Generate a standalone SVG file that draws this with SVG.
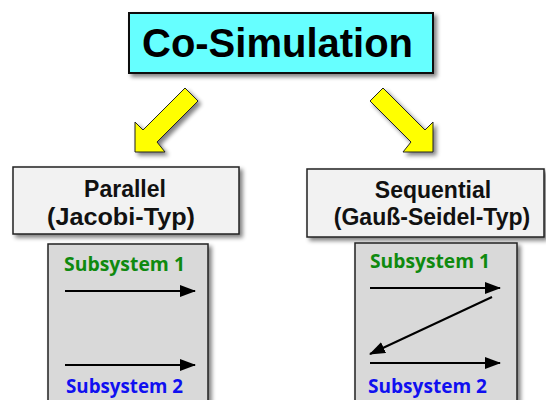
<svg xmlns="http://www.w3.org/2000/svg" width="546" height="400" viewBox="0 0 546 400">
<defs>
<filter id="sh" x="-10%" y="-10%" width="130%" height="140%">
<feGaussianBlur in="SourceAlpha" stdDeviation="2"/>
<feOffset dx="3" dy="3" result="b"/>
<feComponentTransfer><feFuncA type="linear" slope="0.5"/></feComponentTransfer>
<feMerge><feMergeNode/><feMergeNode in="SourceGraphic"/></feMerge>
</filter>
<marker id="ah" viewBox="0 0 16 12" refX="15" refY="6" markerWidth="16" markerHeight="12" markerUnits="userSpaceOnUse" orient="auto">
<path d="M0,0 L16,6 L0,12 Z" fill="#000"/>
</marker>
</defs>
<style>
.title{font-family:"Liberation Sans",Arial,sans-serif;font-weight:bold;font-size:40px;fill:#000}
.mid{font-family:"Liberation Sans",Arial,sans-serif;font-weight:bold;font-size:23px;fill:#111;text-anchor:middle}
.sub{font-family:"Open Sans","Noto Sans",sans-serif;font-weight:bold;font-size:20px}
.g{fill:#0f8a0f}
.b{fill:#1010f0}
.arrow{fill:#ffff00;stroke:#222;stroke-width:1;filter:url(#sh)}
.line{stroke:#000;stroke-width:2;fill:none;marker-end:url(#ah)}
</style>
<g id="co-simulation">
<rect x="129" y="13" width="304" height="60" fill="#66ffff" stroke="#111" stroke-width="2" filter="url(#sh)"/>
<text class="title" x="142" y="57" textLength="271">Co-Simulation</text>
</g>
<g id="connectors">
<polygon class="arrow" points="185,88 198,101 157,142 165,152 135,152 135,122 143,130"/>
<polygon class="arrow" points="383,88 370,101 411,142 403,152 433,152 433,122 425,130"/>
</g>
<g id="parallel">
<rect x="13" y="167" width="226" height="67" fill="#f2f2f2" stroke="#222" stroke-width="1.5" filter="url(#sh)"/>
<text class="mid" x="125" y="197">Parallel</text>
<text class="mid" x="121" y="225" textLength="148" lengthAdjust="spacingAndGlyphs">(Jacobi-Typ)</text>
</g>
<g id="sequential">
<rect x="307" y="169" width="237" height="68" fill="#f2f2f2" stroke="#222" stroke-width="1.5" filter="url(#sh)"/>
<text class="mid" x="433" y="198">Sequential</text>
<text class="mid" x="432" y="225">(Gauß-Seidel-Typ)</text>
</g>
<g id="parallel-subsystems">
<rect x="48" y="244" width="160" height="170" fill="#d9d9d9" stroke="#222" stroke-width="1.5" filter="url(#sh)"/>
<text class="sub g" x="64" y="271" textLength="121" lengthAdjust="spacingAndGlyphs">Subsystem 1</text>
<line class="line" x1="65" y1="291" x2="195" y2="291"/>
<line class="line" x1="65" y1="365" x2="195" y2="365"/>
<text class="sub b" x="66" y="393" textLength="117" lengthAdjust="spacingAndGlyphs">Subsystem 2</text>
</g>
<g id="sequential-subsystems">
<rect x="355" y="243" width="162" height="170" fill="#d9d9d9" stroke="#222" stroke-width="1.5" filter="url(#sh)"/>
<text class="sub g" x="370" y="268" textLength="120" lengthAdjust="spacingAndGlyphs">Subsystem 1</text>
<line class="line" x1="370" y1="288" x2="500" y2="288"/>
<line class="line" x1="492" y1="297" x2="370" y2="354"/>
<line class="line" x1="370" y1="363" x2="500" y2="363"/>
<text class="sub b" x="368" y="393" textLength="119" lengthAdjust="spacingAndGlyphs">Subsystem 2</text>
</g>
</svg>
